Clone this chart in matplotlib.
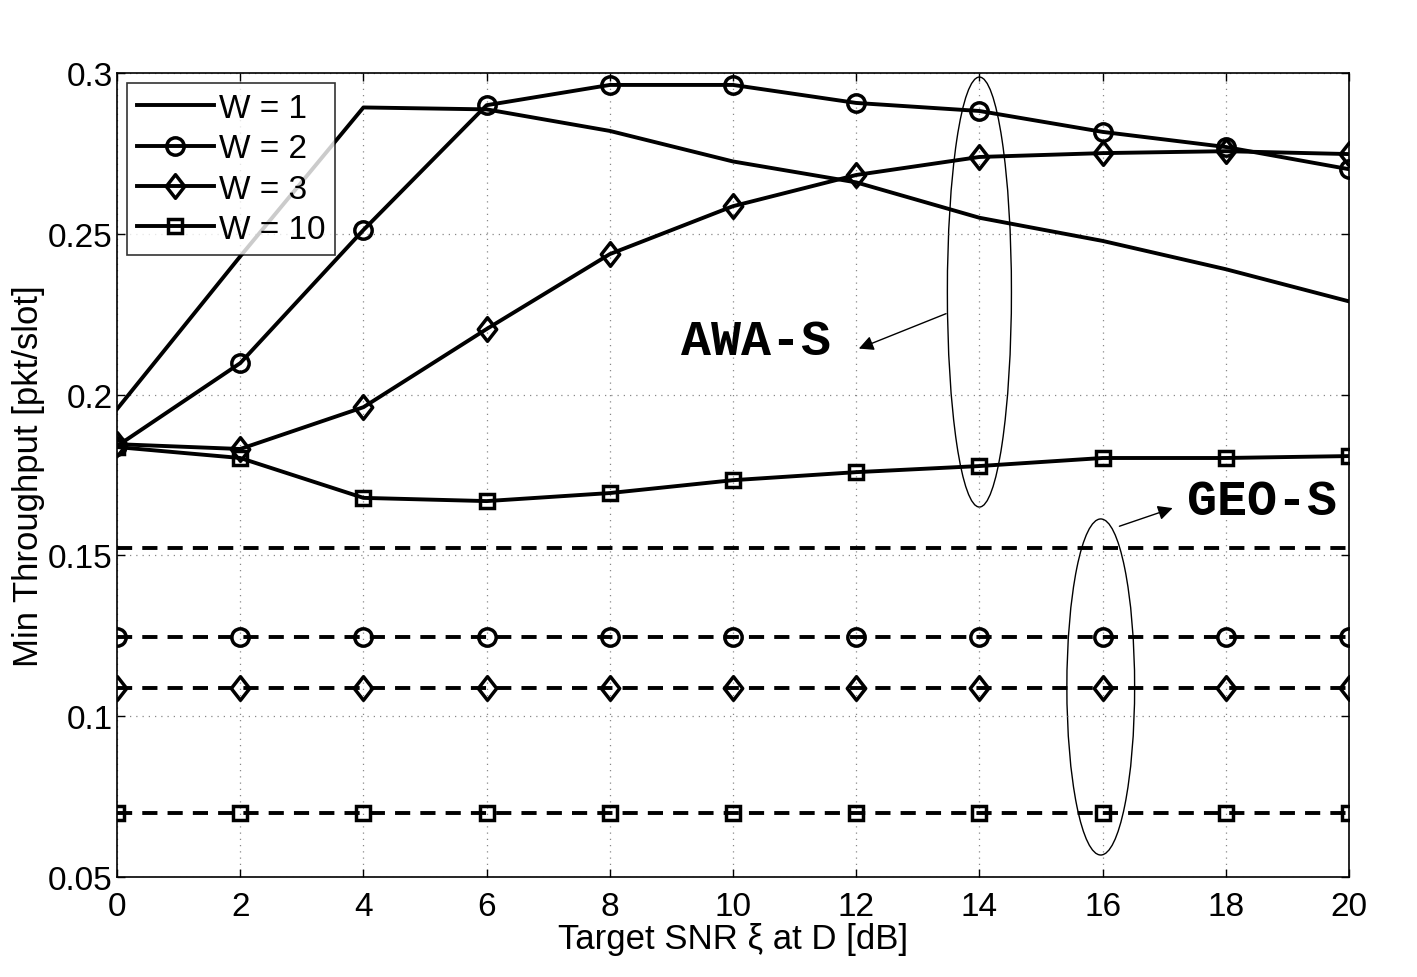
import numpy as np
import matplotlib
matplotlib.use("Agg")
import matplotlib.pyplot as plt
from matplotlib.patches import Ellipse
from matplotlib.path import Path

plt.rcParams['font.family'] = ['Liberation Sans', 'DejaVu Sans']

snr = [0, 2, 4, 6, 8, 10, 12, 14, 16, 18, 20]

# AWA-S curves
awa_w1 = [0.1955, 0.243, 0.2893, 0.2887, 0.2820, 0.2725, 0.2660, 0.2550, 0.2478, 0.2390, 0.2290]
awa_w2 = [0.1840, 0.2098, 0.2512, 0.2900, 0.2963, 0.2963, 0.2907, 0.2882, 0.2817, 0.2770, 0.2701]
awa_w3 = [0.1846, 0.1831, 0.1961, 0.2204, 0.2437, 0.2586, 0.2683, 0.2739, 0.2751, 0.2757, 0.2748]
awa_w10 = [0.1837, 0.1803, 0.1679, 0.1669, 0.1694, 0.1734, 0.1759, 0.1778, 0.1803, 0.1803, 0.1809]

# GEO-S curves (flat)
geo_w1 = [0.1523] * len(snr)
geo_w2 = [0.1246] * len(snr)
geo_w3 = [0.1088] * len(snr)
geo_w10 = [0.0699] * len(snr)

labels = ["W = 1", "W = 2", "W = 3", "W = 10"]

# matlab-like diamond (wider than mpl 'd')
diamond = Path([(0, 1), (0.78, 0), (0, -1), (-0.78, 0), (0, 1)],
	[Path.MOVETO, Path.LINETO, Path.LINETO, Path.LINETO, Path.CLOSEPOLY])
markers = [None, "o", diamond, "s"]
msizes = [0, 12.5, 17, 9.5]

fig = plt.figure(figsize=(14.17, 9.78), dpi=100)
ax = fig.add_axes([0.0826, 0.1022, 0.8694, 0.8221])

for ys, m, ms, lab in zip([awa_w1, awa_w2, awa_w3, awa_w10], markers, msizes, labels):
	ax.plot(snr, ys, color="black", lw=2.8, marker=m, ms=ms, mfc="none", mew=2.5, label=lab)

for ys, m, ms in zip([geo_w1, geo_w2, geo_w3, geo_w10], markers, msizes):
	ax.plot(snr, ys, color="black", lw=2.8, ls=(0, (3.9, 2.6)), marker=m, ms=ms, mfc="none", mew=2.5)

ax.set_xlim(0, 20); ax.set_ylim(0.05, 0.3)
ax.set_xticks(snr)
ax.set_yticks([0.05, 0.1, 0.15, 0.2, 0.25, 0.3])
ax.set_yticklabels(["0.05", "0.1", "0.15", "0.2", "0.25", "0.3"])
ax.tick_params(direction="in", labelsize=24, length=6, width=1, top=True, right=True)
ax.tick_params(axis="x", pad=10)
ax.tick_params(axis="y", pad=3)
ax.grid(True, ls=(0, (1, 4)), color="#888888", lw=0.9)
for s in ax.spines.values():
	s.set_linewidth(1.2)

ax.set_xlabel("Target SNR \u03be at D [dB]", fontsize=25, labelpad=0)
ax.set_ylabel("Min Throughput [pkt/slot]", fontsize=25, labelpad=2)

leg = ax.legend(loc="upper left", fontsize=24, frameon=True, fancybox=False, edgecolor="black",
	handlelength=2.3, borderpad=0.3, labelspacing=0.28, handletextpad=0.15, borderaxespad=0.3)
leg.get_frame().set_linewidth(1.2)

# ellipses
ax.add_patch(Ellipse((14.0, 0.2319), 1.04, 0.1337, fill=False, lw=1.0, color="black"))
ax.add_patch(Ellipse((15.97, 0.1091), 1.1, 0.1045, fill=False, lw=1.0, color="black"))

ax.text(11.59, 0.2167, "AWA-S", family="Liberation Mono", weight="bold", fontsize=36, ha="right", va="center")
ax.annotate("", xy=(12.0, 0.2140), xytext=(13.5, 0.2255),
	arrowprops=dict(arrowstyle="-|>", color="black", lw=1.0, mutation_scale=22))
ax.text(17.37, 0.1669, "GEO-S", family="Liberation Mono", weight="bold", fontsize=36, ha="left", va="center")
ax.annotate("", xy=(17.18, 0.165), xytext=(16.23, 0.1588),
	arrowprops=dict(arrowstyle="-|>", color="black", lw=1.0, mutation_scale=22))

fig.savefig("out.png", dpi=100)
